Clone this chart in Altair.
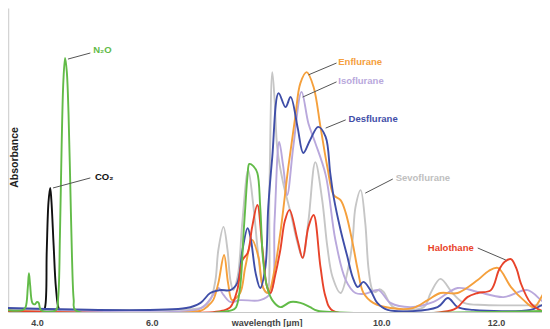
import altair as alt
import pandas as pd

# ---------------- data (wavelength in µm, absorbance in arbitrary units) -------------
X_DOMAIN = [3.495, 12.80]
Y_DOMAIN = [0, 100]

CO2_WL = [3.49, 4.10, 4.14, 4.17, 4.20, 4.23, 4.25, 4.29, 4.33, 4.38, 4.42, 12.95]
CO2_ABS = [0.1, 0.1, 1.5, 20, 36, 40.8, 37, 22, 8, 1.0, 0.1, 0.1]

SEVO_WL = [3.49, 6.75, 6.90, 7.02, 7.11, 7.16, 7.25, 7.32, 7.37, 7.42, 7.50, 7.58, 7.68,
           7.77, 7.86, 7.94, 8.01, 8.05, 8.10, 8.14, 8.19, 8.29, 8.42, 8.54, 8.63, 8.73,
           8.85, 8.97, 9.06, 9.15, 9.29, 9.43, 9.50, 9.55, 9.64, 9.72, 9.78, 9.85, 9.90,
           9.97, 10.04, 10.21, 10.74, 10.86, 11.03, 11.24, 11.44, 11.80, 12.95]
SEVO_ABS = [1.0, 1.0, 1.6, 3.9, 10.5, 20.4, 28.0, 20.4, 10.5, 7.2, 12, 30, 46.7,
            35, 18, 8, 6.25, 40, 78.9, 70, 53.3, 42.4, 32.6, 22.7, 17.8, 30,
            49.3, 36.8, 21.4, 11.5, 6.25, 15, 23.7, 34.5, 40.1, 29.3, 13.8, 7, 6.6,
            7.5, 6.6, 1.6, 1.6, 6.25, 10.9, 6.25, 3.0, 2.3, 2.3]

ISO_WL = [3.49, 6.80, 6.93, 7.07, 7.16, 7.25, 7.37, 7.54, 7.89, 8.07, 8.14, 8.22, 8.29,
          8.36, 8.47, 8.61, 8.73, 8.85, 9.03, 9.20, 9.38, 9.55, 9.72, 9.95, 10.16, 10.51,
          10.91, 11.33, 11.68, 12.13, 12.55, 12.83, 12.95]
ISO_ABS = [0.8, 0.8, 2.3, 5.6, 7.9, 5.6, 3.3, 3.9, 3.9, 6.25, 30, 55.9, 48,
           38.5, 55, 72.4, 62, 55.6, 45.1, 23.7, 10.5, 6.25, 6, 7.2, 3.0, 1.6,
           3.3, 7.9, 6.6, 4.9, 7.2, 3.3, 3.0]

ENF_WL = [3.49, 6.85, 6.98, 7.07, 7.16, 7.26, 7.33, 7.40, 7.54, 7.63, 7.75, 7.86, 7.94,
          8.03, 8.14, 8.24, 8.38, 8.50, 8.59, 8.70, 8.82, 8.94, 9.06, 9.17, 9.29, 9.38,
          9.50, 9.59, 9.69, 9.86, 10.16, 10.55, 10.81, 11.03, 11.33, 11.68, 11.87, 12.03,
          12.26, 12.48, 12.66, 12.83, 12.95]
ENF_ABS = [0.4, 0.4, 2, 3.9, 9.5, 18.75, 9.5, 3.9, 6.25, 14.8, 23.7, 18, 8,
           6.25, 14, 26, 47.7, 64.1, 75.3, 78.9, 74, 60.9, 47.7, 38.5, 36.8, 32.6,
           22.7, 13.8, 6.25, 3.0, 1.3, 1.3, 3.9, 6.25, 6.25, 10.5, 13.5, 14.5,
           8.2, 3.9, 1.6, 6.25, 9.5]

DES_WL = [3.49, 6.60, 6.85, 7.02, 7.19, 7.37, 7.49, 7.58, 7.67, 7.72, 7.81, 7.89, 7.98,
          8.03, 8.10, 8.21, 8.33, 8.42, 8.54, 8.64, 8.76, 8.90, 9.03, 9.11, 9.17, 9.29,
          9.41, 9.50, 9.59, 9.69, 9.81, 9.93, 10.11, 10.98, 11.16, 11.33, 11.60, 12.60,
          12.83, 12.95]
DES_ABS = [1.3, 1.3, 3.0, 6.25, 7.2, 7.2, 9.5, 20.4, 27.6, 24.7, 12.8, 7.9, 14.8,
           34.5, 51, 72, 67.4, 70.7, 60.9, 52.3, 56.6, 60.9, 57.6, 45.7, 37.8, 27,
           18.1, 11.5, 8.2, 9.9, 7.2, 3.0, 0.7, 1.6, 4.6, 1.6, 0.7, 0.7,
           2.3, 1.6]

HAL_WL = [3.49, 7.20, 7.37, 7.49, 7.58, 7.67, 7.75, 7.84, 7.93, 8.01, 8.07, 8.15, 8.24,
          8.32, 8.40, 8.54, 8.63, 8.73, 8.82, 8.94, 9.03, 9.15, 11.21, 11.33, 11.50,
          11.68, 11.91, 12.05, 12.15, 12.26, 12.36, 12.43, 12.60, 12.78, 12.95]
HAL_ABS = [0.3, 0.3, 1.6, 7.2, 17.1, 19.4, 28, 35.2, 20.4, 8.2, 6.25, 12, 20.4,
           30, 33.6, 23.7, 17.8, 28, 31.9, 14.8, 4.9, 0.5, 0.5, 1.6, 4.9,
           6.25, 7.2, 13.8, 16.5, 17.4, 14, 9.5, 3.0, 0.5, 0.3]

N2O_WL = [3.49, 3.75, 3.80, 3.84, 3.86, 3.88, 3.92, 3.96, 4.00, 4.03, 4.07, 4.33, 4.37,
          4.40, 4.43, 4.46, 4.49, 4.52, 4.55, 4.58, 4.61, 4.64, 4.67, 7.40, 7.47, 7.54,
          7.60, 7.63, 7.67, 7.70, 7.77, 7.84, 7.89, 7.94, 8.01, 8.10, 8.24, 8.42, 8.59,
          8.76, 8.89, 12.95]
N2O_ABS = [0.6, 0.6, 1.5, 8, 12.8, 9, 3.0, 2.5, 3.3, 3.0, 0.6, 0.6, 5,
           25, 55, 76, 83.6, 79, 65, 42, 18, 4, 0.6, 0.6, 1.6, 8.2,
           26, 34.5, 45, 48.7, 48, 45.7, 34.5, 17.1, 8.2, 3.9, 1.6, 3.3, 3.0,
           1.6, 0.4, 0.4]

SERIES = ["CO2", "Sevoflurane", "Isoflurane", "Enflurane", "Desflurane", "Halothane", "N2O"]
SERIES_WL = [CO2_WL, SEVO_WL, ISO_WL, ENF_WL, DES_WL, HAL_WL, N2O_WL]
SERIES_ABS = [CO2_ABS, SEVO_ABS, ISO_ABS, ENF_ABS, DES_ABS, HAL_ABS, N2O_ABS]
SERIES_COLORS = ["#111111", "#c6c6c6", "#b9a8dc", "#f5a03c", "#3f4ea8", "#e8432a", "#62bb48"]

LABEL_TEXT = ["N₂O", "CO₂", "Enflurane", "Isoflurane", "Desflurane", "Sevoflurane", "Halothane"]
LABEL_COLORS = ["#62bb48", "#111111", "#f5a03c", "#b9a8dc", "#3f4ea8", "#c0c0c0", "#e8432a"]
LABEL_X = [4.98, 5.01, 9.25, 9.25, 9.43, 10.25, 10.81]
LABEL_Y = [86.2, 44.4, 82.2, 76.0, 63.5, 44.1, 21.05]
PTR_X1 = [4.54, 4.28, 8.73, 8.63, 9.03, 9.72, 12.17]
PTR_Y1 = [83.2, 40.8, 78.0, 70.7, 60.5, 39.1, 17.1]
PTR_X2 = [4.93, 4.93, 9.22, 9.22, 9.38, 10.20, 11.68]
PTR_Y2 = [85.2, 44.1, 81.9, 75.7, 63.2, 43.75, 21.05]

FONT = "Liberation Sans"

# ---------------- chart -------------
xs = alt.Scale(domain=X_DOMAIN, nice=False, zero=False)
ys = alt.Scale(domain=Y_DOMAIN, nice=False, zero=False)

x_axis = alt.Axis(
    values=[4, 6, 8, 10, 12],
    labelExpr="datum.value == 8 ? 'wavelength [µm]' : format(datum.value, '.1f')",
    ticks=False, grid=False, title=None,
    domainColor="#c8c8c8", domainWidth=1,
    labelFont=FONT, labelFontSize=9, labelFontWeight="bold", labelColor="#444444",
    labelPadding=6, labelOverlap=False, labelFlush=False,
)
y_axis = alt.Axis(
    ticks=False, labels=False, grid=False,
    domainColor="#d4d4d4", domainWidth=1.5,
    title="Absorbance", titleFont=FONT, titleFontSize=10.5, titleFontWeight="bold",
    titleColor="#222222", titleX=11, titleY=149, titleAlign="center",
)

layers = []
for name, wl, ab, col in zip(SERIES, SERIES_WL, SERIES_ABS, SERIES_COLORS):
    df = pd.DataFrame({"wl": wl, "abs": ab})
    layers.append(
        alt.Chart(df).mark_line(color=col, strokeWidth=1.9, interpolate="catmull-rom", clip=True)
        .encode(x=alt.X("wl:Q", scale=xs, axis=x_axis),
                y=alt.Y("abs:Q", scale=ys, axis=y_axis))
    )

ann = pd.DataFrame({
    "text": LABEL_TEXT, "color": LABEL_COLORS, "lx": LABEL_X, "ly": LABEL_Y,
    "x1": PTR_X1, "y1": PTR_Y1, "x2": PTR_X2, "y2": PTR_Y2,
})
pointers = alt.Chart(ann).mark_rule(color="#555555", strokeWidth=1).encode(
    x=alt.X("x1:Q", scale=xs, axis=x_axis), y=alt.Y("y1:Q", scale=ys, axis=y_axis),
    x2="x2:Q", y2="y2:Q",
)
labels = alt.Chart(ann).mark_text(
    align="left", baseline="middle", font=FONT, fontSize=9.5, fontWeight="bold"
).encode(
    x=alt.X("lx:Q", scale=xs, axis=x_axis), y=alt.Y("ly:Q", scale=ys, axis=y_axis),
    text="text:N", color=alt.Color("color:N", scale=None),
)

chart = alt.layer(*layers, pointers, labels).properties(
    width=534, height=304, padding=0, background="white",
).configure_view(stroke=None)

chart.save("out.html", embed_options={"renderer": "svg", "actions": False})
